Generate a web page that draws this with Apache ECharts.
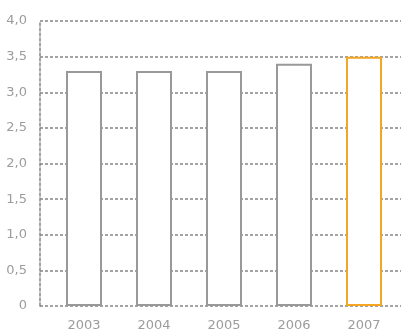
<!DOCTYPE html>
<html>
<head>
<meta charset="utf-8">
<script src="https://cdn.jsdelivr.net/npm/echarts@6/dist/echarts.min.js"></script>
<style>
  html, body { margin: 0; padding: 0; background: #fff; }
  #chart { width: 401px; height: 336px; }
</style>
</head>
<body>
<div id="chart"></div>
<script>
// Yearly values, one bar per year
const years = ['2003', '2004', '2005', '2006', '2007'];
const values = [3.3, 3.3, 3.3, 3.4, 3.5];
const yTickLabels = ['0', '0,5', '1,0', '1,5', '2,0', '2,5', '3,0', '3,5', '4,0'];

const GRAY = '#999999';
const ORANGE = '#f4a522';
const LINE = '#858585';
const LABEL = '#9c9c9c';
const FONT = '"DejaVu Sans", sans-serif';
const highlightIndex = values.length - 1;

const chart = echarts.init(document.getElementById('chart'), null, { renderer: 'canvas' });

const dashed = { color: LINE, width: 1.5, type: [3, 2] };

chart.setOption({
  animation: false,
  backgroundColor: '#fff',
  grid: [
    // value grid: spans the full width with the dashed guide lines
    { left: 40, right: 0, top: 21, bottom: 30 },
    // bar grid: categories placed inside the value grid
    { left: 49, right: 2, top: 21, bottom: 30 }
  ],
  xAxis: [
    { gridIndex: 0, type: 'category', data: years, show: false },
    {
      gridIndex: 1, type: 'category', data: years,
      axisLine: { show: false }, axisTick: { show: false },
      axisLabel: { color: LABEL, fontSize: 13, fontFamily: FONT, margin: 13 }
    }
  ],
  yAxis: [
    {
      gridIndex: 0, type: 'value', min: 0, max: 4, interval: 0.5,
      axisLine: { show: true, lineStyle: dashed },
      axisTick: { show: false },
      splitLine: { show: true, lineStyle: dashed },
      axisLabel: {
        color: LABEL, fontSize: 13, fontFamily: FONT, margin: 13,
        formatter: v => yTickLabels[Math.round(v / 0.5)]
      }
    },
    { gridIndex: 1, type: 'value', min: 0, max: 4, show: false }
  ],
  series: [{
    type: 'bar',
    xAxisIndex: 1,
    yAxisIndex: 1,
    barWidth: 36,
    data: values.map((v, i) => ({
      value: v,
      itemStyle: {
        color: '#fff',
        borderColor: i === highlightIndex ? ORANGE : GRAY,
        borderWidth: 2
      }
    }))
  }]
});
</script>
</body>
</html>
